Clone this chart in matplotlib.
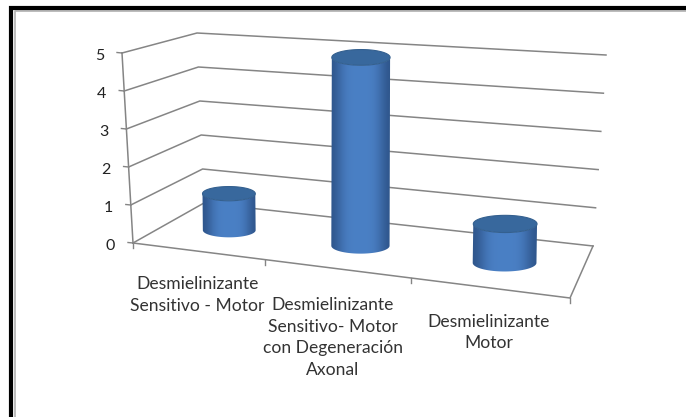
import numpy as np
import matplotlib
matplotlib.use("Agg")
import matplotlib.pyplot as plt
from matplotlib.patches import Polygon

plt.rcParams['font.family'] = ['Lato', 'DejaVu Sans']

# Datos del grafico
categorias = ["Desmielinizante\nSensitivo - Motor",
              "Desmielinizante\nSensitivo- Motor\ncon Degeneración\nAxonal",
              "Desmielinizante\nMotor"]
valores = [1, 5, 1]
niveles = [0, 1, 2, 3, 4, 5]

ANCHO, ALTO = 686, 417
VALOR_MAX = 5

# Esquinas del piso en pixeles: frente izq, fondo izq, fondo der, frente der
esquinas = np.array([[133, 243], [204, 203], [593, 246], [570, 298]], float)
# Pixeles por unidad y desplazamiento lateral por unidad en cada esquina
escala_y = np.array([38.0, 34.0, 38.2, 41.0])
escala_x = np.array([-2.2, -1.4, 2.6, 3.0])
# Las categorias se ensanchan hacia la derecha por la perspectiva
PERSPECTIVA = 0.859


def proyectar(u, v, z=0):
    # u: posicion a lo largo de las categorias, v: profundidad, z: valor
    w = PERSPECTIVA * u + (1 - PERSPECTIVA) * u ** 2
    pesos = np.array([(1 - w) * (1 - v), (1 - w) * v, w * v, w * (1 - v)])
    x, y = pesos @ esquinas
    return x + z * pesos @ escala_x, y - z * pesos @ escala_y


def dibujar_cilindro(ax, i, valor):
    n = len(valores)
    u = (i + 0.5) / n
    v = 0.5
    cx0, cy0 = proyectar(u, v)
    cx1, cy1 = proyectar(u, v, valor)
    cx1 = cx0 + 0.3 * (cx1 - cx0)
    semi_a = 0.2 * (proyectar(u + 0.5 / n, 0)[0] - proyectar(u - 0.5 / n, 0)[0])
    semi_b = 0.27 * semi_a

    t = np.linspace(0, np.pi, 60)
    arco_inf = np.column_stack([cx0 + semi_a * np.cos(t), cy0 + semi_b * np.sin(t)])
    arco_sup = np.column_stack([cx1 - semi_a * np.cos(t), cy1 + semi_b * np.sin(t)])
    contorno = np.vstack([arco_inf, arco_sup])

    # Cuerpo con degradado horizontal, recortado al contorno
    s = np.linspace(-1, 1, 128)
    brillo = np.exp(-(s / 0.75) ** 4)
    claro = np.array([0.29, 0.50, 0.77])
    oscuro = np.array([0.18, 0.33, 0.54])
    degradado = (oscuro + (claro - oscuro) * brillo[:, None])[None, :, :]
    img = ax.imshow(degradado, extent=(cx0 - semi_a - 1, cx0 + semi_a + 1, ALTO, 0),
                    aspect='auto', zorder=5, interpolation='bilinear')
    img.set_clip_path(Polygon(contorno, transform=ax.transData))

    # Tapa superior
    t = np.linspace(0, 2 * np.pi, 90)
    tapa = np.column_stack([cx1 + semi_a * np.cos(t), cy1 + semi_b * np.sin(t)])
    ax.add_patch(Polygon(tapa, closed=True, facecolor='#38689d', edgecolor='#34608f',
                         lw=0.8, zorder=6))


fig = plt.figure(figsize=(ANCHO / 100, ALTO / 100), dpi=100)
ax = fig.add_axes([0, 0, 1, 1])
ax.set_xlim(0, ANCHO)
ax.set_ylim(ALTO, 0)
ax.axis('off')

# Marco negro con filo gris por dentro (solo arriba e izquierda)
ax.plot([14.7, 14.7, ANCHO], [ALTO, 10.7, 10.7], color='#b0b0b0', lw=1.2, zorder=1)
ax.plot([11, 11, ANCHO], [ALTO, 8, 8], color='black', lw=3.0, zorder=1,
        solid_joinstyle='miter')

GRIS = '#858585'
# Lineas de division: pared lateral y pared del fondo
for n in niveles:
    xs, ys = zip(proyectar(0, 0, n), proyectar(0, 1, n), proyectar(1, 1, n))
    ax.plot(xs, ys, color=GRIS, lw=1.1, zorder=2)
    x0, y0 = proyectar(0, 0, n)
    ax.plot([x0 - 5, x0], [y0 - 0.5, y0], color=GRIS, lw=1.0, zorder=2)
    ax.text(x0 - 18, y0 + 3, str(n), ha='right', va='center', fontsize=11.5,
            color='#222222', zorder=7)

# Eje vertical y bordes del piso
xs, ys = zip(proyectar(0, 0, 0), proyectar(0, 0, VALOR_MAX))
ax.plot(xs, ys, color=GRIS, lw=1.1, zorder=2)
xs, ys = zip(proyectar(0, 0), proyectar(1, 0), proyectar(1, 1))
ax.plot(xs, ys, color=GRIS, lw=1.1, zorder=2)

# Marcas del eje de categorias
for i in range(len(categorias) + 1):
    x, y = proyectar(i / len(categorias), 0)
    ax.plot([x, x], [y, y + 5], color=GRIS, lw=1.0, zorder=2)

for i, valor in enumerate(valores):
    dibujar_cilindro(ax, i, valor)

# Etiquetas de categorias
posiciones = [(197.5, 295), (333, 337.5), (489, 332.5)]
for (x, y), texto in zip(posiciones, categorias):
    ax.text(x, y, texto, ha='center', va='center', fontsize=12.6,
            color='#333333', linespacing=1.46, zorder=7)

fig.savefig('out.png', dpi=100)
